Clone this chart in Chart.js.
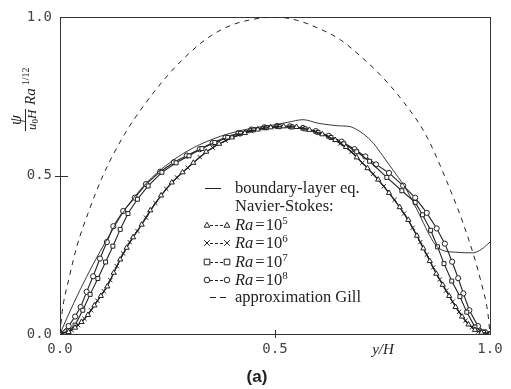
<!DOCTYPE html>
<html>
<head>
<meta charset="utf-8">
<script src="https://cdn.jsdelivr.net/npm/chart.js@4"></script>
<style>
  html, body { margin: 0; padding: 0; background: #fff; }
  canvas { display: block; }
</style>
</head>
<body>
<canvas id="chart" width="511" height="389"></canvas>
<script>
// tick labels (both axes)
const tickValues = [0, 0.5, 1.0];

// boundary-layer equations (thin solid line)
const blX = [0, 0.016, 0.047, 0.077, 0.11, 0.15, 0.2, 0.25, 0.3, 0.35, 0.4, 0.45, 0.5, 0.53, 0.565, 0.6, 0.625, 0.645, 0.675, 0.69, 0.705, 0.73, 0.75, 0.775, 0.8, 0.82, 0.84, 0.86, 0.875, 0.89, 0.92, 0.96, 0.98, 1.0];
const blY = [0, 0.05, 0.14, 0.22, 0.3, 0.39, 0.475, 0.535, 0.58, 0.612, 0.635, 0.65, 0.66, 0.668, 0.676, 0.665, 0.66, 0.657, 0.654, 0.645, 0.632, 0.6, 0.563, 0.516, 0.468, 0.42, 0.365, 0.31, 0.278, 0.264, 0.258, 0.256, 0.267, 0.29];

// Navier-Stokes, Ra = 10^5 (triangles)
const ra5X = [0, 0.02, 0.035, 0.05, 0.065, 0.08, 0.095, 0.11, 0.125, 0.14, 0.155, 0.17, 0.19, 0.21, 0.235, 0.26, 0.285, 0.31, 0.34, 0.37, 0.4, 0.43, 0.46, 0.49, 0.52, 0.55, 0.58, 0.61, 0.64, 0.665, 0.69, 0.715, 0.74, 0.765, 0.79, 0.81, 0.83, 0.845, 0.86, 0.875, 0.89, 0.905, 0.92, 0.935, 0.95, 0.965, 0.98, 1.0];
const ra5Y = [0, 0.006, 0.02, 0.038, 0.06, 0.09, 0.12, 0.15, 0.193, 0.235, 0.272, 0.305, 0.345, 0.39, 0.437, 0.478, 0.51, 0.54, 0.575, 0.6, 0.62, 0.634, 0.645, 0.652, 0.655, 0.653, 0.644, 0.63, 0.612, 0.59, 0.557, 0.523, 0.487, 0.445, 0.4, 0.36, 0.31, 0.27, 0.23, 0.19, 0.155, 0.12, 0.085, 0.055, 0.03, 0.013, 0.004, 0];

// Navier-Stokes, Ra = 10^6 (crosses)
const ra6X = [0, 0.027, 0.042, 0.057, 0.072, 0.087, 0.102, 0.117, 0.132, 0.147, 0.162, 0.18, 0.2, 0.222, 0.247, 0.272, 0.297, 0.325, 0.355, 0.385, 0.415, 0.445, 0.475, 0.505, 0.535, 0.565, 0.595, 0.625, 0.652, 0.678, 0.703, 0.728, 0.753, 0.778, 0.8, 0.82, 0.838, 0.853, 0.868, 0.883, 0.898, 0.913, 0.928, 0.943, 0.958, 0.973, 1.0];
const ra6Y = [0, 0.012, 0.028, 0.048, 0.075, 0.105, 0.135, 0.17, 0.214, 0.254, 0.29, 0.325, 0.367, 0.413, 0.458, 0.494, 0.525, 0.558, 0.588, 0.61, 0.628, 0.64, 0.649, 0.654, 0.654, 0.649, 0.638, 0.622, 0.601, 0.575, 0.54, 0.505, 0.466, 0.423, 0.38, 0.335, 0.29, 0.25, 0.21, 0.172, 0.137, 0.102, 0.07, 0.042, 0.021, 0.008, 0];

// Navier-Stokes, Ra = 10^7 (squares)
const ra7X = [0, 0.02, 0.035, 0.053, 0.07, 0.088, 0.106, 0.123, 0.14, 0.158, 0.18, 0.205, 0.237, 0.27, 0.3, 0.33, 0.36, 0.39, 0.42, 0.45, 0.48, 0.51, 0.54, 0.57, 0.6, 0.63, 0.66, 0.69, 0.72, 0.76, 0.795, 0.826, 0.843, 0.862, 0.878, 0.893, 0.911, 0.93, 0.946, 0.965, 0.985, 1.0];
const ra7Y = [0, 0.01, 0.028, 0.075, 0.125, 0.175, 0.227, 0.277, 0.33, 0.38, 0.425, 0.467, 0.51, 0.54, 0.562, 0.585, 0.604, 0.62, 0.633, 0.644, 0.651, 0.654, 0.653, 0.647, 0.636, 0.62, 0.6, 0.575, 0.545, 0.494, 0.452, 0.415, 0.376, 0.327, 0.275, 0.222, 0.167, 0.118, 0.069, 0.022, 0.005, 0];

// Navier-Stokes, Ra = 10^8 (circles)
const ra8X = [0, 0.02, 0.035, 0.048, 0.062, 0.077, 0.093, 0.109, 0.124, 0.147, 0.174, 0.2, 0.233, 0.265, 0.295, 0.325, 0.355, 0.385, 0.415, 0.445, 0.475, 0.505, 0.535, 0.565, 0.595, 0.625, 0.655, 0.685, 0.71, 0.735, 0.765, 0.798, 0.826, 0.853, 0.876, 0.895, 0.912, 0.926, 0.938, 0.952, 0.972, 0.988, 1.0];
const ra8Y = [0, 0.025, 0.055, 0.085, 0.133, 0.182, 0.238, 0.29, 0.34, 0.388, 0.43, 0.473, 0.512, 0.542, 0.563, 0.583, 0.603, 0.62, 0.634, 0.645, 0.652, 0.656, 0.655, 0.65, 0.64, 0.625, 0.607, 0.583, 0.56, 0.535, 0.508, 0.468, 0.43, 0.382, 0.333, 0.285, 0.228, 0.176, 0.128, 0.075, 0.025, 0.006, 0];

// approximation Gill (dashed)
const gillX = [0, 0.005, 0.02, 0.04, 0.065, 0.1, 0.15, 0.2, 0.25, 0.3, 0.35, 0.4, 0.45, 0.5, 0.55, 0.6, 0.65, 0.7, 0.75, 0.8, 0.85, 0.9, 0.95, 0.98, 0.995, 1.0];
const gillY = [0, 0.07, 0.17, 0.28, 0.38, 0.5, 0.63, 0.73, 0.815, 0.885, 0.94, 0.975, 0.993, 1.0, 0.99, 0.965, 0.93, 0.875, 0.81, 0.73, 0.63, 0.48, 0.3, 0.16, 0.066, 0];

// legend rows
const legendLabels = ["boundary-layer eq.", "Navier-Stokes:", "5", "6", "7", "8", "approximation Gill"];

const INK = "#222";
const SERIF = '"Liberation Serif", "DejaVu Serif", serif';

function pts(xs, ys) {
    return xs.map((x, i) => ({ x: x, y: ys[i] }));
}

function nsSet(xs, ys, style, r) {
    return {
        data: pts(xs, ys),
        showLine: true,
        borderColor: INK,
        borderWidth: 1.1,
        backgroundColor: "#fff",
        pointStyle: style,
        pointRadius: r,
        pointBorderWidth: 1,
        pointBorderColor: INK,
        pointBackgroundColor: "#fff"
    };
}

// small marker for the hand drawn legend
function marker(ctx, style, x, y, r) {
    ctx.save();
    ctx.beginPath();
    if (style === "triangle") {
        ctx.moveTo(x, y - r);
        ctx.lineTo(x + r, y + r * 0.8);
        ctx.lineTo(x - r, y + r * 0.8);
        ctx.closePath();
    } else if (style === "crossRot") {
        ctx.moveTo(x - r, y - r); ctx.lineTo(x + r, y + r);
        ctx.moveTo(x + r, y - r); ctx.lineTo(x - r, y + r);
    } else if (style === "rect") {
        ctx.rect(x - r, y - r, 2 * r, 2 * r);
    } else {
        ctx.arc(x, y, r, 0, Math.PI * 2);
    }
    ctx.fillStyle = "#fff";
    if (style !== "crossRot") ctx.fill();
    ctx.stroke();
    ctx.restore();
}

// frame and ticks crossing the axes
const framePlugin = {
    id: "frame",
    beforeDatasetsDraw(chart) {
        const { ctx, chartArea: a, scales } = chart;
        ctx.save();
        ctx.strokeStyle = "#333";
        ctx.lineWidth = 1;
        ctx.strokeRect(a.left + 0.5, a.top + 0.5, a.right - a.left, a.bottom - a.top);
        ctx.beginPath();
        const py = Math.round(scales.y.getPixelForValue(0.5)) + 0.5;
        ctx.moveTo(a.left - 5, py); ctx.lineTo(a.left + 8, py);
        const px = Math.round(scales.x.getPixelForValue(0.5)) + 0.5;
        ctx.moveTo(px, a.bottom - 4); ctx.lineTo(px, a.bottom + 4);
        ctx.stroke();
        ctx.restore();
    }
};

// legend, axis titles and panel letter
const notesPlugin = {
    id: "notes",
    afterDraw(chart) {
        const ctx = chart.ctx;
        ctx.save();
        ctx.fillStyle = INK;
        ctx.strokeStyle = INK;
        ctx.lineWidth = 1;
        ctx.textBaseline = "alphabetic";

        const rowY = [188, 206, 225, 243, 262, 280, 297];
        const textX = 235;
        const styles = { "5": "triangle", "6": "crossRot", "7": "rect", "8": "circle" };

        legendLabels.forEach((lab, i) => {
            const y = rowY[i];
            const base = y + 5;
            ctx.font = "16.5px " + SERIF;
            if (i === 0) {
                ctx.beginPath(); ctx.moveTo(205, y + 0.5); ctx.lineTo(221, y + 0.5); ctx.stroke();
                ctx.fillText(lab, textX, base);
            } else if (i === 1) {
                ctx.fillText(lab, textX, base);
            } else if (styles[lab]) {
                ctx.setLineDash([3, 2]);
                ctx.beginPath(); ctx.moveTo(210, y + 0.5); ctx.lineTo(225, y + 0.5); ctx.stroke();
                ctx.setLineDash([]);
                marker(ctx, styles[lab], 207, y, 2.8);
                marker(ctx, styles[lab], 227, y, 2.8);
                ctx.font = "italic 16.5px " + SERIF;
                ctx.fillText("Ra", textX, base);
                let x = textX + ctx.measureText("Ra").width + 2;
                ctx.font = "16.5px " + SERIF;
                ctx.fillText("=", x, base);
                x += ctx.measureText("=").width + 1;
                ctx.fillText("10", x, base);
                x += ctx.measureText("10").width;
                ctx.font = "11px " + SERIF;
                ctx.fillText(lab, x, base - 6);
            } else {
                ctx.setLineDash([6, 4]);
                ctx.beginPath(); ctx.moveTo(210, y + 0.5); ctx.lineTo(230, y + 0.5); ctx.stroke();
                ctx.setLineDash([]);
                ctx.fillText(lab, textX, base);
            }
        });

        // x axis title
        ctx.font = "italic 15px " + SERIF;
        ctx.textAlign = "center";
        ctx.textBaseline = "middle";
        ctx.fillText("y/H", 383, 350);

        // panel letter
        ctx.font = 'bold 17px "Liberation Sans", Arial, sans-serif';
        ctx.fillText("(a)", 257, 377);

        // rotated y axis title: psi / (u0 H) Ra^(1/12)
        ctx.translate(25, 131);
        ctx.rotate(-Math.PI / 2);
        ctx.textBaseline = "alphabetic";
        ctx.textAlign = "center";
        ctx.font = "italic 16px " + SERIF;
        ctx.fillText("\u03C8", 11, -4);
        ctx.beginPath(); ctx.moveTo(0, 0.5); ctx.lineTo(22, 0.5); ctx.stroke();
        ctx.textAlign = "left";
        ctx.font = "italic 13px " + SERIF;
        ctx.fillText("u", 1, 11);
        let ux = 1 + ctx.measureText("u").width;
        ctx.font = "9px " + SERIF;
        ctx.fillText("0", ux, 13);
        ux += ctx.measureText("0").width;
        ctx.font = "italic 13px " + SERIF;
        ctx.fillText("H", ux, 11);
        ctx.font = "italic 15px " + SERIF;
        ctx.fillText("Ra", 26, 10);
        const rw = ctx.measureText("Ra").width;
        ctx.font = "10px " + SERIF;
        ctx.fillText("1/12", 29 + rw, 4);

        ctx.restore();
    }
};

const tickFont = { family: "DejaVu Sans Mono", size: 14 };

new Chart(document.getElementById("chart"), {
    type: "scatter",
    data: {
        datasets: [
            {
                data: pts(blX, blY),
                showLine: true,
                borderColor: INK,
                borderWidth: 0.9,
                pointRadius: 0,
                cubicInterpolationMode: "monotone"
            },
            nsSet(ra5X, ra5Y, "triangle", 3),
            nsSet(ra6X, ra6Y, "crossRot", 3),
            nsSet(ra7X, ra7Y, "rect", 2.8),
            nsSet(ra8X, ra8Y, "circle", 2.6),
            {
                data: pts(gillX, gillY),
                showLine: true,
                borderColor: INK,
                borderWidth: 1,
                borderDash: [5, 5],
                pointRadius: 0,
                cubicInterpolationMode: "monotone"
            }
        ]
    },
    options: {
        responsive: false,
        animation: false,
        devicePixelRatio: 1,
        layout: { padding: { top: 17, right: 21, left: 0, bottom: 0 } },
        plugins: {
            legend: { display: false },
            tooltip: { enabled: false }
        },
        scales: {
            x: {
                type: "linear",
                min: 0,
                max: 1,
                afterFit: s => { s.height = 55; },
                afterBuildTicks: s => { s.ticks = tickValues.map(v => ({ value: v })); },
                grid: { display: false, drawTicks: false },
                border: { display: false },
                ticks: { padding: 7, color: "#444", font: tickFont, maxRotation: 0, callback: v => v.toFixed(1) }
            },
            y: {
                type: "linear",
                min: 0,
                max: 1,
                afterFit: s => { s.width = 60; },
                afterBuildTicks: s => { s.ticks = tickValues.map(v => ({ value: v })); },
                grid: { display: false, drawTicks: false },
                border: { display: false },
                ticks: { padding: 8, color: "#444", font: tickFont, callback: v => v.toFixed(1) }
            }
        }
    },
    plugins: [framePlugin, notesPlugin]
});
</script>
</body>
</html>
